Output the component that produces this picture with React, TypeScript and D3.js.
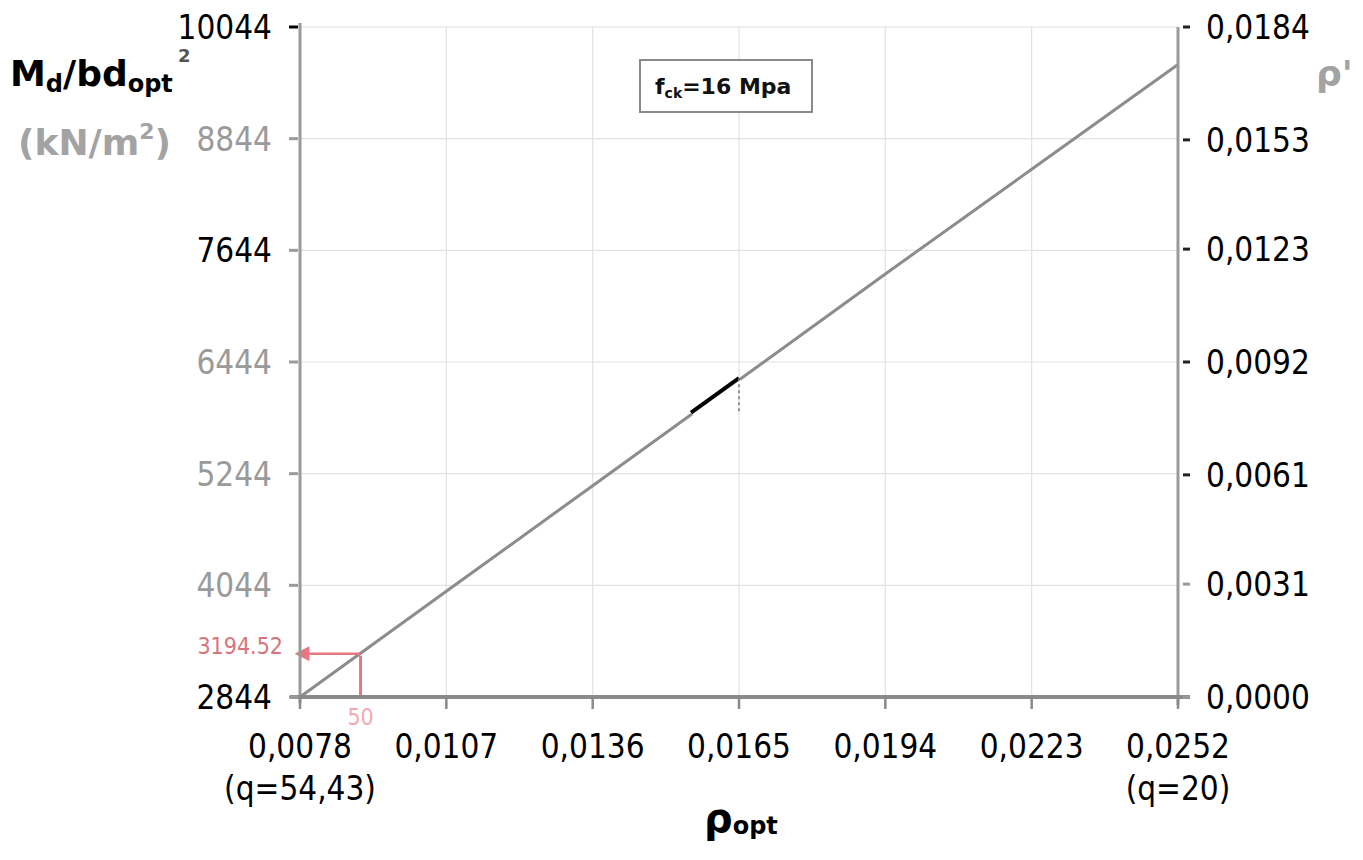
import * as d3 from "d3";

// x axis: rho_opt
const rhoTicks = [0.0078, 0.0107, 0.0136, 0.0165, 0.0194, 0.0223, 0.0252];
const rhoSubLabels = ["(q=54,43)", "", "", "", "", "", "(q=20)"];
// left axis: Md/bd^2
const mdTicks = [2844, 4044, 5244, 6444, 7644, 8844, 10044];
// right axis: rho'
const rhoPrimeTicks = [0, 0.0031, 0.0061, 0.0092, 0.0123, 0.0153, 0.0184];

// the curve
const lineRho = [0.0078, 0.0107, 0.0136, 0.0165, 0.0194, 0.0223, 0.0252];
const lineMd = [2844, 3980, 5115, 6250, 7390, 8515, 9640];

// short dark piece of the line
const darkRho = [0.01555, 0.0165];
const darkMd = [5900, 6270];

// red read-off point
const readRho = 0.009;
const readMd = 3310;
const readLabel = "3194.52";
const readQ = "50";

const W = 1363;
const H = 860;
const m = { left: 300, right: 1178, top: 27, bottom: 697 };

const tickFont = "'DejaVu Sans Condensed', 'DejaVu Sans', sans-serif";
const boldFont = "'DejaVu Sans', Verdana, sans-serif";
const gray = "#9a9a9a";
const leftTickColors = ["#000", "#9a9a9a", "#9a9a9a", "#9a9a9a", "#000", "#9a9a9a", "#000"];
const red = "#e8787f";

const fmt = (v: number) => v.toFixed(4).replace(".", ",");

export default function App() {
  const x = d3.scaleLinear().domain([rhoTicks[0], rhoTicks[rhoTicks.length - 1]]).range([m.left, m.right]);
  const y = d3.scaleLinear().domain([mdTicks[0], mdTicks[mdTicks.length - 1]]).range([m.bottom, m.top]);
  const y2 = d3.scaleLinear().domain([0, 0.0184]).range([m.bottom, m.top]);

  const path = d3
    .line<number>()
    .x((d) => x(d))
    .y((d, i) => y(lineMd[i]));
  const darkPath = d3
    .line<number>()
    .x((d) => x(d))
    .y((d, i) => y(darkMd[i]));

  const px = x(readRho);
  const py = y(readMd);

  return (
    <svg
      width={W}
      height={H}
      style={{ position: "absolute", left: 0, top: 0, background: "#fff" }}
    >
      <defs>
        <marker id="arrL" viewBox="0 0 10 10" refX="1" refY="5" markerWidth="6" markerHeight="6" orient="auto-start-reverse">
          <path d="M0,0 L10,5 L0,10 z" fill={red} />
        </marker>
      </defs>

      {/* grid */}
      {mdTicks.map((t) => (
        <line key={"gh" + t} x1={m.left} x2={m.right} y1={y(t)} y2={y(t)} stroke="#e2e2e2" strokeWidth={1.2} />
      ))}
      {rhoTicks.map((t) => (
        <line key={"gv" + t} x1={x(t)} x2={x(t)} y1={m.top} y2={m.bottom} stroke="#e2e2e2" strokeWidth={1.2} />
      ))}

      {/* fck box */}
      <rect x={640} y={60} width={172} height={52} fill="#fff" stroke="#8a8a8a" strokeWidth={2} />
      <text x={655} y={94} fontFamily={boldFont} fontWeight="bold" fontSize={22} fill="#111">
        f<tspan fontSize={14} dy={4}>ck</tspan>
        <tspan dy={-4}>=16 Mpa</tspan>
      </text>

      {/* curve */}
      <path d={path(lineRho) || ""} fill="none" stroke="#8c8c8c" strokeWidth={3} />
      <path d={darkPath(darkRho) || ""} fill="none" stroke="#fff" strokeWidth={9} />
      <path d={darkPath(darkRho) || ""} fill="none" stroke="#000" strokeWidth={4} />
      <line x1={x(darkRho[1])} x2={x(darkRho[1])} y1={y(darkMd[1])} y2={y(darkMd[1]) + 34} stroke="#777" strokeWidth={1.5} strokeDasharray="3,3" />

      {/* red read-off */}
      <line x1={px} x2={px} y1={m.bottom} y2={py + 2} stroke={red} strokeWidth={3} />
      <line x1={px} x2={m.left + 8} y1={py} y2={py} stroke={red} strokeWidth={2.5} markerEnd="url(#arrL)" />
      <text x={m.left - 17} y={py - 0} fontFamily={tickFont} fontStretch="condensed" fontSize={23} fill="#d9747c" textAnchor="end">
        {readLabel}
      </text>
      <text x={px} y={m.bottom + 28} fontFamily={tickFont} fontStretch="condensed" fontSize={23} fill="#f2a9ae" textAnchor="middle">
        {readQ}
      </text>

      {/* axes lines */}
      <line x1={m.left} x2={m.left} y1={m.top - 4} y2={m.bottom + 6} stroke={gray} strokeWidth={3} />
      <line x1={m.right} x2={m.right} y1={m.top} y2={m.bottom + 8} stroke={gray} strokeWidth={3} />
      <line x1={m.left - 10} x2={m.right + 12} y1={m.bottom} y2={m.bottom} stroke="#8a8a8a" strokeWidth={4} />

      {/* left ticks */}
      {mdTicks.map((t, i) => (
        <g key={"l" + t}>
          <line x1={m.left - 11} x2={m.left - 2} y1={y(t)} y2={y(t)} stroke={i === 6 ? "#000" : gray} strokeWidth={3} />
          <text x={272} y={y(t)} dy="0.36em" textAnchor="end" fontFamily={tickFont} fontStretch="condensed" fontSize={33} fill={leftTickColors[i]}>
            {t}
          </text>
        </g>
      ))}

      {/* right ticks */}
      {rhoPrimeTicks.map((t, i) => (
        <g key={"r" + t}>
          <line x1={m.right + 5} x2={m.right + 12} y1={y2(t)} y2={y2(t)} stroke={i < 2 ? gray : "#222"} strokeWidth={3} />
          <text x={1206} y={y2(t)} dy="0.36em" fontFamily={tickFont} fontStretch="condensed" fontSize={33} fill="#000">
            {fmt(t)}
          </text>
        </g>
      ))}

      {/* bottom ticks */}
      {rhoTicks.map((t, i) => (
        <g key={"b" + t}>
          <line x1={x(t)} x2={x(t)} y1={m.bottom} y2={m.bottom + 12} stroke="#8a8a8a" strokeWidth={2.5} />
          <text x={x(t)} y={758} textAnchor="middle" fontFamily={tickFont} fontStretch="condensed" fontSize={33} fill="#000">
            {fmt(t)}
          </text>
          {rhoSubLabels[i] && (
            <text x={x(t)} y={800} textAnchor="middle" fontFamily={tickFont} fontStretch="condensed" fontSize={33} fill="#000">
              {rhoSubLabels[i]}
            </text>
          )}
        </g>
      ))}

      {/* axis titles */}
      <text x={10} y={86} fontFamily={boldFont} fontWeight="bold" fontSize={36} fill="#000">
        M<tspan fontSize={24} dy={6}>d</tspan>
        <tspan dy={-6}>/bd</tspan>
        <tspan fontSize={24} dy={6}>opt</tspan>
      </text>
      <text x={178} y={62} fontFamily={boldFont} fontWeight="bold" fontSize={18} fill="#555">2</text>
      <text x={18} y={155} fontFamily={boldFont} fontWeight="bold" fontSize={36} fill="#a3a3a3">
        (kN/m<tspan fontSize={22} dy={-16}>2</tspan>
        <tspan dy={16}>)</tspan>
      </text>
      <text x={1316} y={86} fontFamily={boldFont} fontWeight="bold" fontSize={36} fill="#a3a3a3">
        ρ'
      </text>
      <text x={704} y={832} fontFamily={boldFont} fontWeight="bold" fontSize={40} fill="#000">
        ρ<tspan fontSize={24} dy={2}>opt</tspan>
      </text>
    </svg>
  );
}
